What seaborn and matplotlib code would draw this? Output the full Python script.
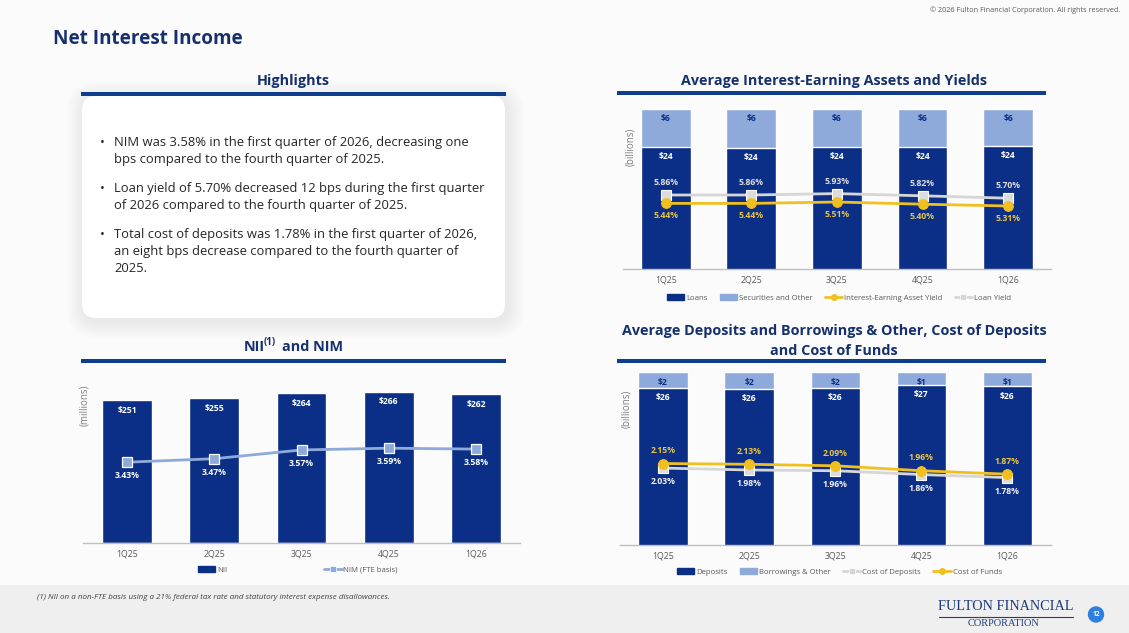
import numpy as np
import pandas as pd
import seaborn as sns
import matplotlib
matplotlib.use("Agg")
import matplotlib.pyplot as plt
from matplotlib.patches import FancyBboxPatch, Patch, Circle, Rectangle
from matplotlib.lines import Line2D

# ---------------- data ----------------
quarters = ["1Q25", "2Q25", "3Q25", "4Q25", "1Q26"]

loans = [24.07, 23.91, 24.07, 24.12, 24.28]
securities = [6.23, 6.39, 6.23, 6.18, 6.02]
iea_yield = [5.44, 5.44, 5.51, 5.40, 5.31]
loan_yield = [5.86, 5.86, 5.93, 5.82, 5.70]

nii = [251, 255, 264, 266, 262]
nim = [3.43, 3.47, 3.57, 3.59, 3.58]

deposits = [26.29, 26.19, 26.29, 26.59, 26.46]
borrowings = [1.61, 1.71, 1.61, 1.31, 1.44]
cost_deposits = [2.03, 1.98, 1.96, 1.86, 1.78]
cost_funds = [2.15, 2.13, 2.09, 1.96, 1.87]

bullets = [
    ["NIM was 3.58% in the first quarter of 2026, decreasing one",
     "bps compared to the fourth quarter of 2025."],
    ["Loan yield of 5.70% decreased 12 bps during the first quarter",
     "of 2026 compared to the fourth quarter of 2025."],
    ["Total cost of deposits was 1.78% in the first quarter of 2026,",
     "an eight bps decrease compared to the fourth quarter of",
     "2025."],
]

# ---------------- style ----------------
sns.set_theme(style="white")
plt.rcParams["font.family"] = ["Open Sans", "DejaVu Sans"]

DARK = "#0b2f87"
LIGHT = "#8eaadb"
GOLD = "#f0c020"
GOLD_TXT = "#e9c445"
GRAY_LINE = "#d6d6d6"
NAVY_T = "#15306c"
RULE = "#0f3f8c"
TICK_C = "#595959"

W, H = 1129, 633
fig = plt.figure(figsize=(W / 100, H / 100), dpi=100, facecolor="#fbfbfb")


def rect(l, t, r, b):
    return [l / W, 1 - b / H, (r - l) / W, (b - t) / H]


bg = fig.add_axes([0, 0, 1, 1])
bg.set_xlim(0, W)
bg.set_ylim(H, 0)
bg.axis("off")

# footer band
bg.add_patch(Rectangle((0, 585), W, 48, color="#efefef", zorder=0, lw=0))

# headers
bg.text(53, 39, "Net Interest Income", fontsize=13.6, fontweight="bold",
        color=NAVY_T, va="center", ha="left")
bg.text(1120, 10, "\u00a9 2026 Fulton Financial Corporation. All rights reserved.",
        fontsize=5.2, color="#595959", ha="right", va="center")

# Highlights panel with soft shadow
px0, py0, px1, py1 = 82, 96, 505, 318
for k in range(18, 0, -1):
    bg.add_patch(FancyBboxPatch((px0 - k + 2, py0 - k + 3), (px1 - px0) + 2 * k,
                                (py1 - py0) + 2 * k,
                                boxstyle="round,pad=0,rounding_size=%d" % (14 + k),
                                fc="#000000", ec="none", alpha=0.004, zorder=1))
bg.add_patch(FancyBboxPatch((px0, py0), px1 - px0, py1 - py0,
                            boxstyle="round,pad=0,rounding_size=14",
                            fc="white", ec="none", zorder=2))

section_titles = [
    (293, 80.7, "Highlights", 81, 506, 94),
    (834, 81.5, "Average Interest-Earning Assets and Yields", 617, 1046, 93.3),
]
for cx, cy, txt, r0, r1, ry in section_titles:
    bg.text(cx, cy, txt, fontsize=10.4, fontweight="bold", color=NAVY_T,
            ha="center", va="center")
    bg.add_patch(Rectangle((r0, ry - 2), r1 - r0, 4, color=RULE, lw=0, zorder=3))

bg.text(834, 331.5, "Average Deposits and Borrowings & Other, Cost of Deposits",
        fontsize=10.4, fontweight="bold", color=NAVY_T, ha="center", va="center")
bg.text(834, 351, "and Cost of Funds", fontsize=10.4, fontweight="bold",
        color=NAVY_T, ha="center", va="center")
bg.add_patch(Rectangle((617, 358.7), 429, 4, color=RULE, lw=0, zorder=3))

# NII(1) and NIM title
bg.text(265, 346.7, "NII", fontsize=10.4, fontweight="bold", color=NAVY_T,
        ha="right", va="center")
bg.text(263.5, 342.3, "(1)", fontsize=7, fontweight="bold", color=NAVY_T,
        ha="left", va="center")
bg.text(282, 346.7, "and NIM", fontsize=10.4, fontweight="bold", color=NAVY_T,
        ha="left", va="center")
bg.add_patch(Rectangle((81, 358.7), 425, 4, color=RULE, lw=0, zorder=3))

# bullet text
line_ys = [[142.7, 159.7], [188.7, 205.3], [234.7, 251.3, 268]]
for lines, ys in zip(bullets, line_ys):
    bg.text(99.5, ys[0], "\u2022", fontsize=9.2, color="#262626",
            ha="left", va="center", zorder=4)
    for ln, yy in zip(lines, ys):
        bg.text(114, yy, ln, fontsize=9.4, color="#262626", ha="left",
                va="center", zorder=4)

# footnote
bg.text(36.7, 597.3,
        "(1) NII on a non-FTE basis using a 21% federal tax rate and statutory interest expense disallowances.",
        fontsize=5.8, style="italic", color="#404040", ha="left", va="center")

# logo
bg.text(1006, 606, "FULTON FINANCIAL", fontsize=10.3, family="Liberation Serif",
        color="#1f3c78", ha="center", va="center")
bg.plot([939, 1073], [616.5, 616.5], color="#1f3c78", lw=0.8)
bg.text(1004, 623.5, "CORPORATION", fontsize=7.5, family="Liberation Serif",
        color="#1f3c78", ha="center", va="center")
bg.add_patch(Circle((1096, 614.5), 7.5, color="#2f7ee0", zorder=3))
bg.text(1096, 614.5, "12", fontsize=4.8, color="white", fontweight="bold",
        ha="center", va="center", zorder=4)


def style(ax):
    ax.set_facecolor("none")
    for s in ["top", "left", "right"]:
        ax.spines[s].set_visible(False)
    ax.spines["bottom"].set_color("#bfbfbf")
    ax.spines["bottom"].set_linewidth(1.0)
    ax.set_yticks([])
    ax.set_xlabel("")
    ax.set_ylabel("")
    ax.tick_params(axis="x", length=0, pad=4.5, labelsize=6.3, labelcolor=TICK_C)
    ax.set_xlim(-0.5, 4.5)


def style_twin(ax):
    ax.set_facecolor("none")
    for s in ["top", "left", "right", "bottom"]:
        ax.spines[s].set_visible(False)
    ax.set_yticks([])
    ax.set_ylabel("")


def label(ax, xs, ys, texts, dy, color, size=6.2):
    for x, y, t in zip(xs, ys, texts):
        ax.annotate(t, (x, y), xytext=(0, dy), textcoords="offset points",
                    ha="center", va="center", fontsize=size, fontweight="bold",
                    color=color, zorder=10)


xs = list(range(len(quarters)))

# ---------------- Top right: assets & yields ----------------
df1 = pd.DataFrame({"q": quarters, "loans": loans, "sec": securities})
df1["total"] = df1["loans"] + df1["sec"]
ax1 = fig.add_axes(rect(622.9, 100, 1050.9, 269))
sns.barplot(data=df1, x="q", y="total", color=LIGHT, saturation=1, width=0.584, ax=ax1)
sns.barplot(data=df1, x="q", y="loans", color=DARK, saturation=1, width=0.584, ax=ax1)
ax1.set_ylim(4.3, 31.76)
style(ax1)
label(ax1, xs, df1["total"], [f"${v:.0f}" for v in securities], -6.8, DARK)
label(ax1, xs, df1["loans"], [f"${v:.0f}" for v in loans], -6.8, "white")
ax1b = ax1.twinx()
sns.lineplot(x=xs, y=loan_yield, ax=ax1b, color=GRAY_LINE, lw=2.0, marker="s",
             markersize=7, markerfacecolor="#dcdcdc", markeredgecolor="white",
             markeredgewidth=0.8, sort=False)
sns.lineplot(x=xs, y=iea_yield, ax=ax1b, color=GOLD, lw=2.0, marker="o",
             markersize=7, markerfacecolor=GOLD, markeredgecolor=GOLD, sort=False)
ax1b.set_ylim(2.16, 10.61)
style_twin(ax1b)
label(ax1b, xs, loan_yield, [f"{v:.2f}%" for v in loan_yield], 9.0, "#dedede")
label(ax1b, xs, iea_yield, [f"{v:.2f}%" for v in iea_yield], -9.0, GOLD_TXT)
fig.text(630.5 / W, 1 - 147 / H, "(billions)", rotation=90, fontsize=7,
         color="#7f7f7f", ha="center", va="center")
h1 = [Patch(color=DARK), Patch(color=LIGHT),
      Line2D([], [], color=GOLD, lw=2, marker="o", markersize=4),
      Line2D([], [], color=GRAY_LINE, lw=2, marker="s", markersize=4,
             markeredgecolor="white", markeredgewidth=0.5)]
fig.legend(h1, ["Loans", "Securities and Other", "Interest-Earning Asset Yield", "Loan Yield"],
           loc="center", bbox_to_anchor=(839 / W, 1 - 298.3 / H), ncol=4,
           frameon=False, fontsize=5.6, handlelength=2.2, handleheight=0.8,
           columnspacing=1.6, handletextpad=0.25, labelcolor=TICK_C)

# ---------------- Bottom right: deposits & costs ----------------
df2 = pd.DataFrame({"q": quarters, "dep": deposits, "bor": borrowings})
df2["total"] = df2["dep"] + df2["bor"]
ax2 = fig.add_axes(rect(620, 365, 1050.5, 545.3))
sns.barplot(data=df2, x="q", y="total", color=LIGHT, saturation=1, width=0.574, ax=ax2)
sns.barplot(data=df2, x="q", y="dep", color=DARK, saturation=1, width=0.574, ax=ax2)
ax2.set_ylim(10.4, 28.58)
style(ax2)
label(ax2, xs, df2["total"], [f"${v:.0f}" for v in borrowings], -7.6, DARK)
label(ax2, xs, df2["dep"], [f"${v:.0f}" for v in deposits], -7.2, "white")
ax2b = ax2.twinx()
sns.lineplot(x=xs, y=cost_deposits, ax=ax2b, color=GRAY_LINE, lw=2.0, marker="s",
             markersize=7, markerfacecolor="#dcdcdc", markeredgecolor="white",
             markeredgewidth=0.8, sort=False)
sns.lineplot(x=xs, y=cost_funds, ax=ax2b, color=GOLD, lw=2.0, marker="o",
             markersize=7, markerfacecolor=GOLD, markeredgecolor=GOLD, sort=False)
ax2b.set_ylim(0.0, 4.74)
style_twin(ax2b)
label(ax2b, xs, cost_funds, [f"{v:.2f}%" for v in cost_funds], 9.2, GOLD_TXT)
label(ax2b, xs, cost_deposits, [f"{v:.2f}%" for v in cost_deposits], -9.8, "#f0f0f0")
fig.text(627 / W, 1 - 409 / H, "(billions)", rotation=90, fontsize=7,
         color="#7f7f7f", ha="center", va="center")
h2 = [Patch(color=DARK), Patch(color=LIGHT),
      Line2D([], [], color=GRAY_LINE, lw=2, marker="s", markersize=4,
             markeredgecolor="white", markeredgewidth=0.5),
      Line2D([], [], color=GOLD, lw=2, marker="o", markersize=4)]
fig.legend(h2, ["Deposits", "Borrowings & Other", "Cost of Deposits", "Cost of Funds"],
           loc="center", bbox_to_anchor=(839.5 / W, 1 - 571.7 / H), ncol=4,
           frameon=False, fontsize=5.6, handlelength=2.2, handleheight=0.8,
           columnspacing=1.6, handletextpad=0.25, labelcolor=TICK_C)

# ---------------- Bottom left: NII & NIM ----------------
df3 = pd.DataFrame({"q": quarters, "nii": nii})
ax3 = fig.add_axes(rect(83.4, 365, 519.6, 543.3))
sns.barplot(data=df3, x="q", y="nii", color=DARK, saturation=1, width=0.573, ax=ax3)
ax3.set_ylim(0, 313)
style(ax3)
label(ax3, xs, nii, [f"${v:.0f}" for v in nii], -7.3, "white")
ax3b = ax3.twinx()
sns.lineplot(x=xs, y=nim, ax=ax3b, color=LIGHT, lw=2.0, marker="s",
             markersize=7.5, markerfacecolor=LIGHT, markeredgecolor="white",
             markeredgewidth=0.9, sort=False)
ax3b.set_ylim(2.504, 4.54)
style_twin(ax3b)
label(ax3b, xs, nim, [f"{v:.2f}%" for v in nim], -9.6, "white")
fig.text(85 / W, 1 - 405 / H, "(millions)", rotation=90, fontsize=7,
         color="#7f7f7f", ha="center", va="center")
h3 = [Patch(color=DARK),
      Line2D([], [], color=LIGHT, lw=2, marker="s", markersize=4,
             markeredgecolor="white", markeredgewidth=0.5)]
fig.legend(h3, ["NII", "NIM (FTE basis)"],
           loc="center", bbox_to_anchor=(298 / W, 1 - 570 / H), ncol=2,
           frameon=False, fontsize=5.6, handlelength=2.2, handleheight=0.8,
           columnspacing=12.5, handletextpad=0.25, labelcolor=TICK_C)

fig.savefig("out.png", dpi=100, facecolor=fig.get_facecolor())
